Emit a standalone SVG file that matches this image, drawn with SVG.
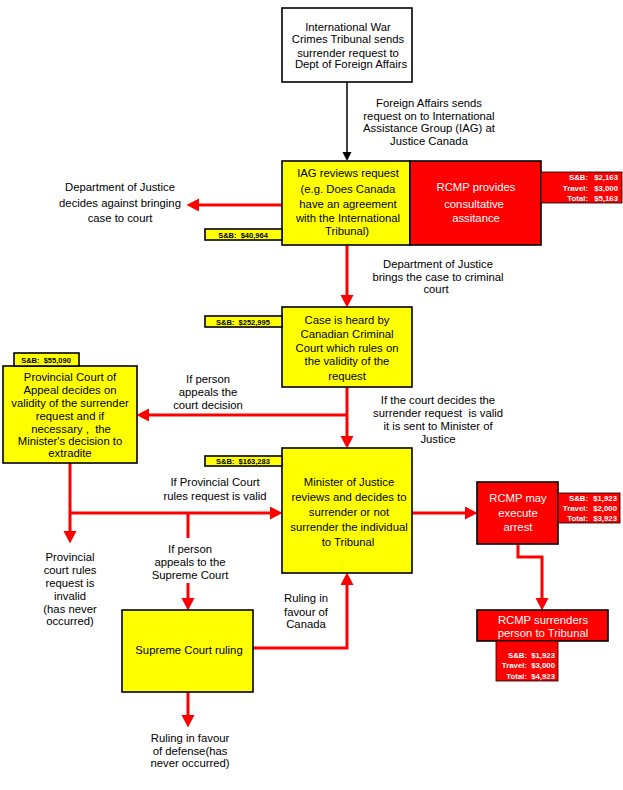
<svg xmlns="http://www.w3.org/2000/svg" width="623" height="790" viewBox="0 0 623 790">
<style>
.bg{fill:#ffffff}
.box{stroke:#000;stroke-width:1.6}
.y{fill:#ffff00}
.r{fill:#ff0000}
.wb{fill:#ffffff}
.t{font-family:"Liberation Sans",Arial,sans-serif;font-size:11.3px;text-anchor:middle;fill:#000}
.tw{font-family:"Liberation Sans",Arial,sans-serif;font-size:11.3px;text-anchor:middle;fill:#fff}
.c{font-family:"Liberation Sans",Arial,sans-serif;font-size:7.8px;font-weight:bold;fill:#fff;text-anchor:end;white-space:pre}
.s{font-family:"Liberation Sans",Arial,sans-serif;font-size:7.5px;font-weight:bold;fill:#000;text-anchor:middle;white-space:pre}
.rl{fill:none;stroke:#ff0000;stroke-width:3}
.bl{fill:none;stroke:#000;stroke-width:1.5}
</style>
<defs>
<marker id="ra" markerUnits="userSpaceOnUse" markerWidth="14" markerHeight="14" refX="0" refY="6.5" orient="auto">
<path d="M0,0 L12.5,6.5 L0,13 z" fill="#ff0000"/>
</marker>
<marker id="ba" markerUnits="userSpaceOnUse" markerWidth="10" markerHeight="10" refX="0" refY="5" orient="auto">
<path d="M0,0.5 L9,5 L0,9.5 z" fill="#000"/>
</marker>
</defs>
<rect class="bg" x="0" y="0" width="623" height="790"/>

<g id="connectors">
<path class="bl" d="M347,82 V152" marker-end="url(#ba)"/>
<path class="rl" d="M282,205 H199" marker-end="url(#ra)"/>
<path class="rl" d="M347,245 V295" marker-end="url(#ra)"/>
<path class="rl" d="M347,387 V436" marker-end="url(#ra)"/>
<path class="rl" d="M347,415 H149" marker-end="url(#ra)"/>
<path class="rl" d="M70,463 V531" marker-end="url(#ra)"/>
<path class="rl" d="M70,513 H270" marker-end="url(#ra)"/>
<path class="rl" d="M188,513 V538"/>
<path class="rl" d="M188,583 V598" marker-end="url(#ra)"/>
<path class="rl" d="M253,648 H347 V585" marker-end="url(#ra)"/>
<path class="rl" d="M188,692 V715" marker-end="url(#ra)"/>
<path class="rl" d="M412,513 H465" marker-end="url(#ra)"/>
<path class="rl" d="M518,544 V557 H542 V598" marker-end="url(#ra)"/>
</g>

<g id="edge-labels">
<text class="t" x="429" y="107">Foreign Affairs sends</text>
<text class="t" x="429" y="120">request on to International</text>
<text class="t" x="429" y="132">Assistance Group (IAG) at</text>
<text class="t" x="429" y="145">Justice Canada</text>
<text class="t" x="120" y="191">Department of Justice</text>
<text class="t" x="120" y="207">decides against bringing</text>
<text class="t" x="120" y="222">case to court</text>
<text class="t" x="438" y="268">Department of Justice</text>
<text class="t" x="438" y="281">brings the case to criminal</text>
<text class="t" x="436" y="293">court</text>
<text class="t" x="208" y="383">If person</text>
<text class="t" x="208" y="396">appeals the</text>
<text class="t" x="208" y="409">court decision</text>
<text class="t" x="438" y="404">If the court decides the</text>
<text class="t" x="438" y="417" style="white-space:pre">surrender request  is valid</text>
<text class="t" x="438" y="430">it is sent to Minister of</text>
<text class="t" x="438" y="443">Justice</text>
<text class="t" x="215" y="486">If Provincial Court</text>
<text class="t" x="215" y="500">rules request is valid</text>
<text class="t" x="190" y="553">If person</text>
<text class="t" x="190" y="566">appeals to the</text>
<text class="t" x="190" y="579">Supreme Court</text>
<text class="t" x="70" y="561">Provincial</text>
<text class="t" x="70" y="574">court rules</text>
<text class="t" x="70" y="587">request is</text>
<text class="t" x="70" y="600">invalid</text>
<text class="t" x="70" y="613">(has never</text>
<text class="t" x="70" y="625">occurred)</text>
<text class="t" x="306" y="602">Ruling in</text>
<text class="t" x="306" y="616">favour of</text>
<text class="t" x="306" y="628">Canada</text>
<text class="t" x="190" y="742">Ruling in favour</text>
<text class="t" x="190" y="755">of defense(has</text>
<text class="t" x="190" y="767">never occurred)</text>
</g>

<g id="tribunal">
<rect class="box wb" x="282" y="8" width="130" height="74"/>
<text class="t" x="348" y="31">International War</text>
<text class="t" x="348" y="43">Crimes Tribunal sends</text>
<text class="t" x="348" y="57">surrender request to</text>
<text class="t" x="351" y="68">Dept of Foreign Affairs</text>
</g>

<g id="iag">
<rect class="box y" x="282" y="161" width="128" height="84"/>
<text class="t" x="348" y="177">IAG reviews request</text>
<text class="t" x="348" y="193">(e.g. Does Canada</text>
<text class="t" x="348" y="208">have an agreement</text>
<text class="t" x="348" y="222">with the International</text>
<text class="t" x="347" y="235">Tribunal)</text>
<rect class="box y" x="205" y="229" width="77" height="11"/>
<text class="s" x="243" y="237.5">S&amp;B:  $40,964</text>
</g>

<g id="rcmp-consult">
<rect class="box r" x="410" y="161" width="131" height="84"/>
<text class="tw" x="476" y="191">RCMP provides</text>
<text class="tw" x="474" y="208">consultative</text>
<text class="tw" x="476" y="222">assitance</text>
<rect class="r" x="541" y="172" width="81" height="31" stroke="#000" stroke-width="0.8"/>
<text class="c" x="588" y="180">S&amp;B:</text>
<text class="c" x="618" y="180">$2,163</text>
<text class="c" x="588" y="190.5">Travel:</text>
<text class="c" x="618" y="190.5">$3,000</text>
<text class="c" x="588" y="201">Total:</text>
<text class="c" x="618" y="201">$5,163</text>
</g>

<g id="case">
<rect class="box y" x="282" y="307" width="130" height="80"/>
<text class="t" x="347" y="324">Case is heard by</text>
<text class="t" x="347" y="338">Canadian Criminal</text>
<text class="t" x="347" y="352">Court which rules on</text>
<text class="t" x="347" y="365">the validity of the</text>
<text class="t" x="347" y="380">request</text>
<rect class="box y" x="205" y="316" width="77" height="11"/>
<text class="s" x="243" y="324.5">S&amp;B:  $252,995</text>
</g>

<g id="provincial">
<rect class="box y" x="3" y="366" width="134" height="97"/>
<text class="t" x="70" y="381">Provincial Court of</text>
<text class="t" x="70" y="394">Appeal decides on</text>
<text class="t" x="70" y="407">validity of the surrender</text>
<text class="t" x="70" y="420">request and if</text>
<text class="t" x="71" y="433" style="white-space:pre">necessary ,  the</text>
<text class="t" x="70" y="445">Minister's decision to</text>
<text class="t" x="70" y="457">extradite</text>
<rect class="box y" x="14" y="353" width="65" height="13"/>
<text class="s" x="46" y="362.5">S&amp;B:  $55,090</text>
</g>

<g id="minister">
<rect class="box y" x="282" y="448" width="130" height="125"/>
<text class="t" x="349" y="486">Minister of Justice</text>
<text class="t" x="349" y="501">reviews and decides to</text>
<text class="t" x="349" y="516">surrender or not</text>
<text class="t" x="349" y="531">surrender the individual</text>
<text class="t" x="348" y="546">to Tribunal</text>
<rect class="box y" x="205" y="456" width="77" height="10"/>
<text class="s" x="243" y="464">S&amp;B:  $163,283</text>
</g>

<g id="supreme">
<rect class="box y" x="122" y="610" width="131" height="82"/>
<text class="t" x="189" y="654">Supreme Court ruling</text>
</g>

<g id="rcmp-arrest">
<rect class="box r" x="477" y="482" width="81" height="62"/>
<text class="tw" x="518" y="502">RCMP may</text>
<text class="tw" x="518" y="517">execute</text>
<text class="tw" x="518" y="531">arrest</text>
<rect class="r" x="558" y="493" width="62" height="30" stroke="#000" stroke-width="0.8"/>
<text class="c" x="588" y="500.5">S&amp;B:</text>
<text class="c" x="617" y="500.5">$1,923</text>
<text class="c" x="588" y="510.5">Travel:</text>
<text class="c" x="617" y="510.5">$2,000</text>
<text class="c" x="588" y="521">Total:</text>
<text class="c" x="617" y="521">$3,923</text>
</g>

<g id="rcmp-surrender">
<rect class="box r" x="477" y="610" width="131" height="31"/>
<text class="tw" x="543" y="624">RCMP surrenders</text>
<text class="tw" x="543" y="637">person to Tribunal</text>
<rect class="r" x="496" y="641" width="62" height="40" stroke="#000" stroke-width="0.8"/>
<text class="c" x="527" y="657.5">S&amp;B:</text>
<text class="c" x="555" y="657.5">$1,923</text>
<text class="c" x="527" y="668">Travel:</text>
<text class="c" x="555" y="668">$3,000</text>
<text class="c" x="527" y="678.5">Total:</text>
<text class="c" x="555" y="678.5">$4,923</text>
</g>
</svg>
